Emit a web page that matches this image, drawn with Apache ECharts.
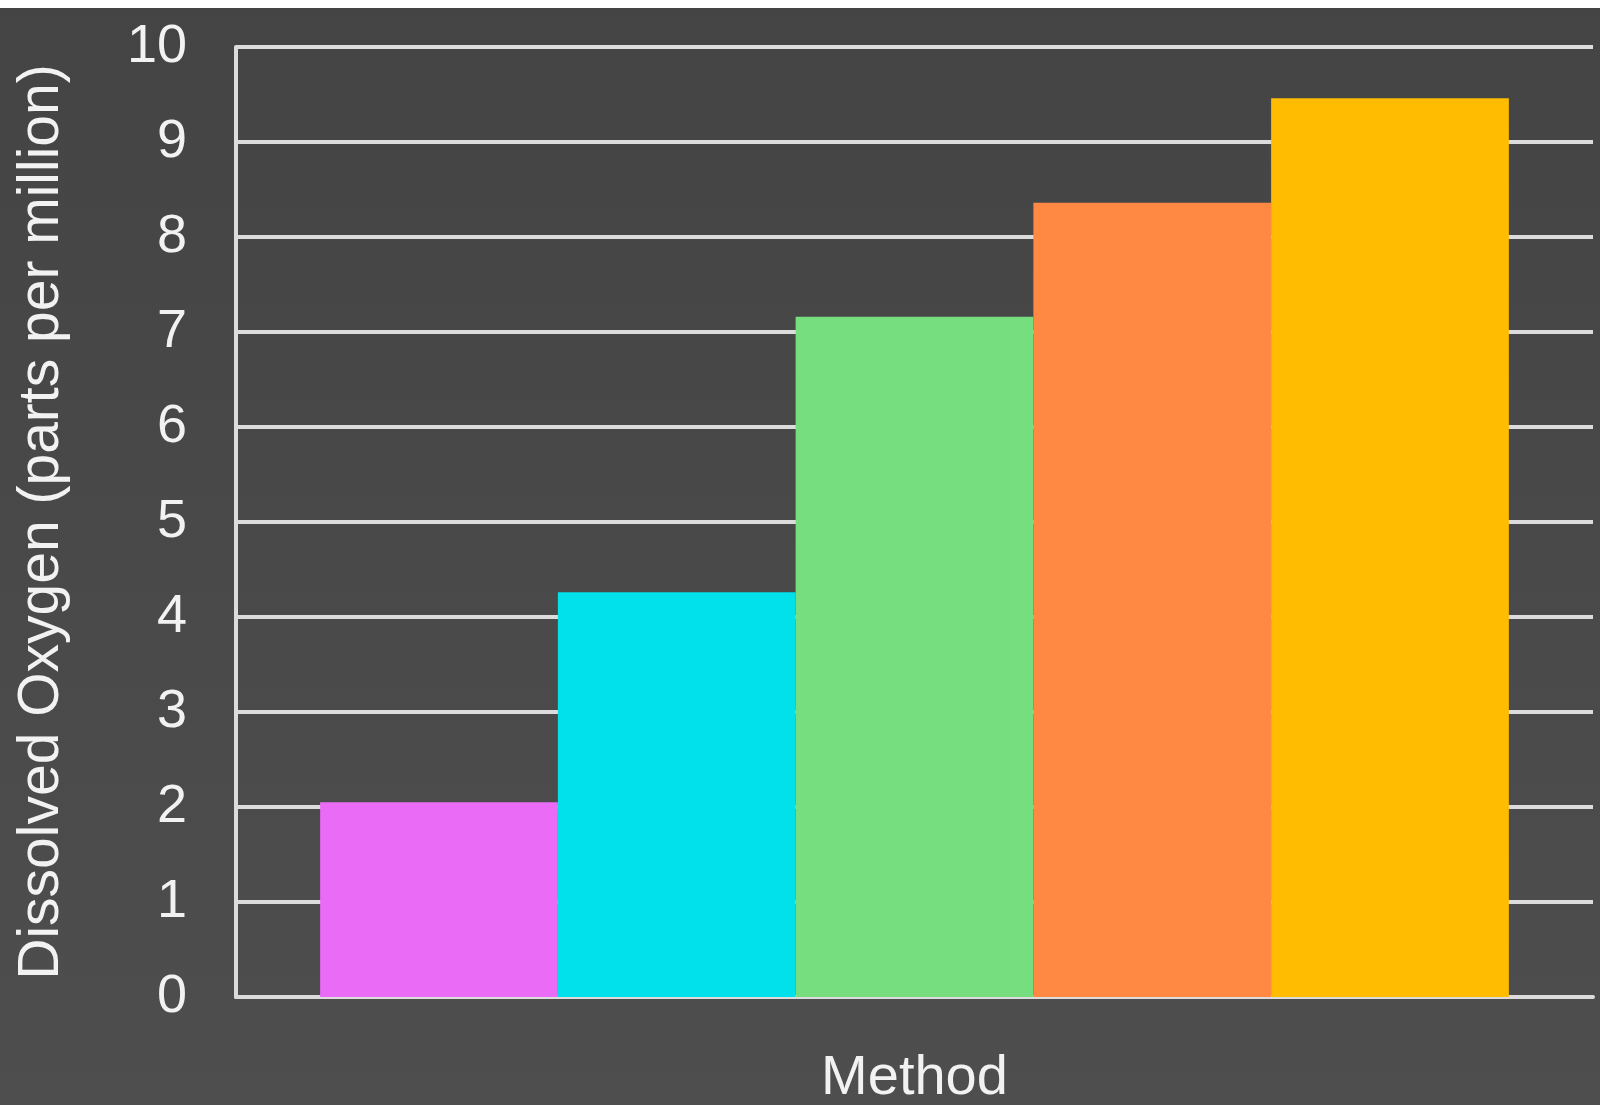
<!DOCTYPE html>
<html>
<head>
<meta charset="utf-8">
<script src="https://cdn.jsdelivr.net/npm/echarts@6/dist/echarts.min.js"></script>
<style>
  html, body { margin: 0; padding: 0; background: #ffffff; }
  #main { position: absolute; left: 0; top: 8px; width: 1600px; height: 1097px; }
</style>
</head>
<body>
<div id="main"></div>
<script>
// chart data
var categories = ['Method'];
var methods = ['Method 1', 'Method 2', 'Method 3', 'Method 4', 'Method 5'];
var oxygen = [2.05, 4.26, 7.16, 8.36, 9.46];
var colors = ['#EA6CF6', '#00E1EC', '#76DE7E', '#FF8842', '#FFBC00'];
var yTicks = [0, 1, 2, 3, 4, 5, 6, 7, 8, 9, 10];

var chart = echarts.init(document.getElementById('main'), null, {
  width: 1600,
  height: 1097
});

var lineColor = '#dcdcdc';
var textColor = '#f2f2f2';
var fontFamily = '"Liberation Sans", Arial, Helvetica, sans-serif';

var series = [];
for (var i = 0; i < methods.length; i++) {
  series.push({
    name: methods[i],
    type: 'bar',
    data: [oxygen[i]],
    barGap: '0%',
    barCategoryGap: '12.4%',
    itemStyle: { color: colors[i] },
    z: 3
  });
}

var option = {
  backgroundColor: {
    type: 'linear', x: 0, y: 0, x2: 0, y2: 1,
    colorStops: [
      { offset: 0, color: '#444444' },
      { offset: 1, color: '#4e4e4e' }
    ]
  },
  animation: false,
  grid: {
    left: 236,
    right: 7,
    top: 39,
    bottom: 108,
    outerBoundsMode: 'none'
  },
  xAxis: {
    type: 'category',
    data: categories,
    name: 'Method',
    nameLocation: 'middle',
    nameGap: 54,
    nameTextStyle: { color: textColor, fontSize: 56, fontFamily: fontFamily },
    axisLine: { show: true, lineStyle: { color: lineColor, width: 4 } },
    axisTick: { show: false },
    axisLabel: { show: false },
    splitLine: { show: false }
  },
  yAxis: {
    type: 'value',
    min: 0,
    max: 10,
    interval: 1,
    name: 'Dissolved Oxygen (parts per million)',
    nameLocation: 'middle',
    nameGap: 165,
    nameTextStyle: { color: textColor, fontSize: 57, fontFamily: fontFamily },
    axisLine: { show: true, lineStyle: { color: lineColor, width: 4 } },
    axisTick: { show: false },
    axisLabel: {
      color: textColor,
      fontSize: 54,
      fontFamily: fontFamily,
      margin: 49,
      formatter: function (v) { return yTicks.indexOf(v) >= 0 ? String(v) : ''; }
    },
    splitLine: { show: true, lineStyle: { color: lineColor, width: 4 } }
  },
  series: series
};

chart.setOption(option);
</script>
</body>
</html>
